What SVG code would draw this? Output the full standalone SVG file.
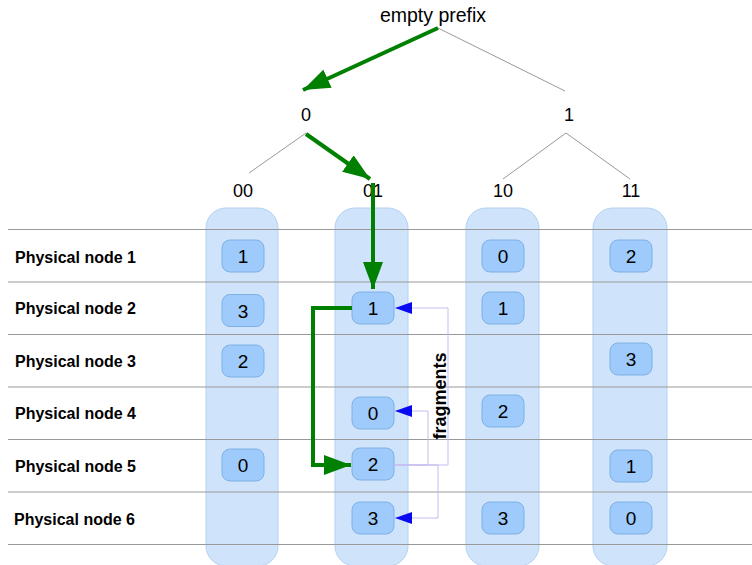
<svg xmlns="http://www.w3.org/2000/svg" width="752" height="565" viewBox="0 0 752 565">
  <style>
    .lbl { font-family: "Liberation Sans", Arial, sans-serif; fill: #000; }
    .tree { font-size: 18px; text-anchor: middle; }
    .row { font-size: 16px; font-weight: bold; }
    .col { fill: #cfe4fb; stroke: #b3d1f0; stroke-width: 1; }
    .frag { fill: #9ecbfb; stroke: #7fb0e4; stroke-width: 1; }
    .num { font-size: 19px; text-anchor: middle; }
    .grid { stroke: #999; stroke-width: 1.2; }
    .twig { stroke: #999; stroke-width: 1; fill: none; }
    .route { stroke: #008000; stroke-width: 4; fill: none; }
    .copy { stroke: #c4bdf0; stroke-width: 1; fill: none; }
  </style>
  <defs>
    <marker id="greenHead" markerUnits="userSpaceOnUse" markerWidth="28" markerHeight="20" refX="27" refY="10" orient="auto">
      <path d="M0,0 L27,10 L0,20 Z" fill="#008000"/>
    </marker>
    <marker id="blueHead" markerUnits="userSpaceOnUse" markerWidth="18" markerHeight="12" refX="17" refY="6" orient="auto">
      <path d="M0,0 L17,6 L0,12 Z" fill="#0a0af0"/>
    </marker>
  </defs>

  <rect width="752" height="565" fill="#fff"/>

  <!-- prefix columns -->
  <g id="columns">
    <rect class="col" x="206" y="208" width="72" height="358" rx="20"/>
    <rect class="col" x="335" y="208" width="73" height="358" rx="20"/>
    <rect class="col" x="466" y="208" width="73" height="358" rx="20"/>
    <rect class="col" x="593" y="208" width="74" height="358" rx="20"/>
  </g>

  <!-- physical node rows -->
  <g id="rows">
    <line class="grid" x1="8" y1="229.5" x2="752" y2="229.5"/>
    <line class="grid" x1="8" y1="282" x2="752" y2="282"/>
    <line class="grid" x1="8" y1="334.5" x2="752" y2="334.5"/>
    <line class="grid" x1="8" y1="387" x2="752" y2="387"/>
    <line class="grid" x1="8" y1="439.5" x2="752" y2="439.5"/>
    <line class="grid" x1="8" y1="492" x2="752" y2="492"/>
    <line class="grid" x1="8" y1="544.5" x2="752" y2="544.5"/>
    <text class="lbl row" x="15" y="263">Physical node 1</text>
    <text class="lbl row" x="15" y="314">Physical node 2</text>
    <text class="lbl row" x="15" y="367">Physical node 3</text>
    <text class="lbl row" x="15" y="419">Physical node 4</text>
    <text class="lbl row" x="15" y="472">Physical node 5</text>
    <text class="lbl row" x="14" y="525">Physical node 6</text>
  </g>

  <!-- prefix tree -->
  <g id="tree-root"><text class="lbl" x="433" y="22" font-size="19.5" text-anchor="middle">empty prefix</text></g>
  <g id="tree-0"><text class="lbl tree" x="306" y="121">0</text></g>
  <g id="tree-1"><text class="lbl tree" x="569" y="121">1</text></g>
  <g id="tree-00"><text class="lbl tree" x="243" y="197">00</text></g>
  <g id="tree-01"><text class="lbl tree" x="373" y="197">01</text></g>
  <g id="tree-10"><text class="lbl tree" x="503" y="197">10</text></g>
  <g id="tree-11"><text class="lbl tree" x="631" y="197">11</text></g>

  <!-- fragments: column 00 -->
  <g id="f00-1"><rect class="frag" x="222" y="240" width="42" height="32" rx="8"/><text class="lbl num" x="243" y="263">1</text></g>
  <g id="f00-3"><rect class="frag" x="222" y="294.5" width="42" height="32" rx="8"/><text class="lbl num" x="243" y="317.5">3</text></g>
  <g id="f00-2"><rect class="frag" x="222" y="345" width="42" height="32" rx="8"/><text class="lbl num" x="243" y="368">2</text></g>
  <g id="f00-0"><rect class="frag" x="222" y="449" width="42" height="32" rx="8"/><text class="lbl num" x="243" y="472">0</text></g>

  <!-- fragments: column 01 -->
  <g id="f01-1"><rect class="frag" x="352" y="292" width="42" height="32" rx="8"/><text class="lbl num" x="373" y="315">1</text></g>
  <g id="f01-0"><rect class="frag" x="352" y="397" width="42" height="32" rx="8"/><text class="lbl num" x="373" y="420">0</text></g>
  <g id="f01-2"><rect class="frag" x="352" y="448" width="42" height="32" rx="8"/><text class="lbl num" x="373" y="471">2</text></g>
  <g id="f01-3"><rect class="frag" x="352" y="502" width="42" height="32" rx="8"/><text class="lbl num" x="373" y="525">3</text></g>

  <!-- fragments: column 10 -->
  <g id="f10-0"><rect class="frag" x="482" y="240" width="42" height="32" rx="8"/><text class="lbl num" x="503" y="263">0</text></g>
  <g id="f10-1"><rect class="frag" x="482" y="292" width="42" height="32" rx="8"/><text class="lbl num" x="503" y="315">1</text></g>
  <g id="f10-2"><rect class="frag" x="482" y="395" width="42" height="32" rx="8"/><text class="lbl num" x="503" y="418">2</text></g>
  <g id="f10-3"><rect class="frag" x="482" y="502" width="42" height="32" rx="8"/><text class="lbl num" x="503" y="525">3</text></g>

  <!-- fragments: column 11 -->
  <g id="f11-2"><rect class="frag" x="610" y="240" width="42" height="32" rx="8"/><text class="lbl num" x="631" y="263">2</text></g>
  <g id="f11-3"><rect class="frag" x="610" y="343" width="42" height="32" rx="8"/><text class="lbl num" x="631" y="366">3</text></g>
  <g id="f11-1"><rect class="frag" x="610" y="450" width="42" height="32" rx="8"/><text class="lbl num" x="631" y="473">1</text></g>
  <g id="f11-0"><rect class="frag" x="610" y="502" width="42" height="32" rx="8"/><text class="lbl num" x="631" y="525">0</text></g>

  <!-- connectors -->
  <g id="connectors">
    <line class="twig" x1="438" y1="28" x2="565" y2="91"/>
    <line class="twig" x1="306" y1="133" x2="249" y2="173"/>
    <line class="twig" x1="566" y1="133" x2="503" y2="179"/>
    <line class="twig" x1="566" y1="133" x2="630" y2="179"/>

    <path class="copy" d="M394,465 H448 V308 H395" marker-end="url(#blueHead)"/>
    <path class="copy" d="M394,465 H428 V411 H395" marker-end="url(#blueHead)"/>
    <path class="copy" d="M394,465 H438 V518 H395" marker-end="url(#blueHead)"/>

    <line class="route" x1="438" y1="28" x2="303" y2="90" marker-end="url(#greenHead)"/>
    <line class="route" x1="306" y1="134" x2="370" y2="179" marker-end="url(#greenHead)"/>
    <line class="route" x1="373" y1="183" x2="373" y2="289" marker-end="url(#greenHead)"/>
    <path class="route" d="M352,308 H313 V465 H351" marker-end="url(#greenHead)"/>

    <text class="lbl" transform="translate(446,396) rotate(-90)" font-size="18" font-weight="bold" text-anchor="middle">fragments</text>
  </g>
</svg>
